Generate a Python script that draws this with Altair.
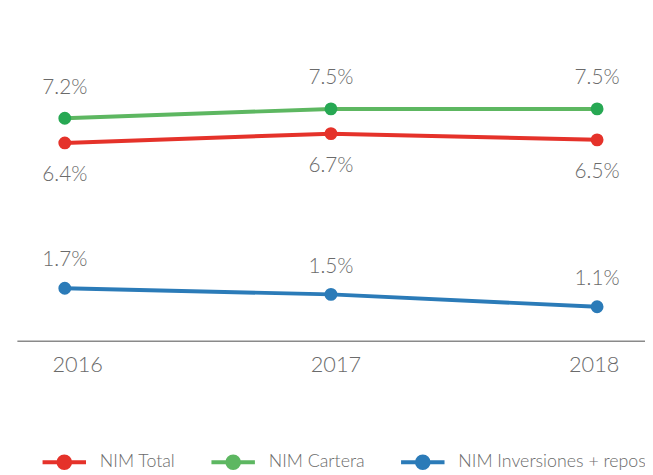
import altair as alt
import pandas as pd

years = ["2016", "2017", "2018"]
series = ["NIM Total", "NIM Cartera", "NIM Inversiones + repos"]
nim_total = [6.4, 6.7, 6.5]
nim_cartera = [7.2, 7.5, 7.5]
nim_inv = [1.7, 1.5, 1.1]

line_colors = ["#E5322A", "#5DB761", "#2B7BB8"]
dot_colors = ["#E5322A", "#27A853", "#2B7BB8"]

rows = []
for s, vals in zip(series, [nim_total, nim_cartera, nim_inv]):
    for y, v in zip(years, vals):
        rows.append({"year": y, "series": s, "value": v, "label": f"{v:.1f}%"})
df = pd.DataFrame(rows)

FONT = "Lato"
GRAY = "#6b6b6b"

# main x scale (points); axis draws only the baseline
x = alt.X("year:O", scale=alt.Scale(type="point", padding=0.18),
          axis=alt.Axis(title=None, labels=False, ticks=False, grid=False,
                        orient="bottom",
                        domainColor="#8a8a8a", domainWidth=1.5))
# label axis (year labels sit slightly off the points in the original)
x_lab = alt.X("year:O", scale=alt.Scale(type="point", range=[61, 584], padding=0),
              axis=alt.Axis(title=None, labelAngle=0, ticks=False, grid=False,
                            domain=False, orient="bottom",
                            labelFontSize=22, labelColor=GRAY, labelFont=FONT,
                            labelFontWeight=300, labelPadding=14))
y = alt.Y("value:Q", scale=alt.Scale(domain=[0, 10]), axis=None)

# line with a solid dot (concentric rings so the stroked path reads as a disc)
def ring(r):
    return f"M{-r},0A{r},{r},0,1,1,{r},0A{r},{r},0,1,1,{-r},0Z"
sym_path = "M-1,0L1,0" + ring(0.27) + ring(0.13) + ring(0.03)

legend = alt.Legend(
    title=None, orient="none", direction="horizontal",
    legendX=24, legendY=412, padding=0,
    symbolType=sym_path, symbolSize=1936,
    symbolStrokeWidth=4, symbolOpacity=1, columnPadding=28,
    labelFontSize=18, labelFont=FONT, labelFontWeight=300,
    labelColor=GRAY, labelOffset=12, labelLimit=400,
)

stroke_enc = alt.Stroke("series:N", scale=alt.Scale(domain=series, range=line_colors),
                        legend=legend)
fill_enc = alt.Fill("series:N", scale=alt.Scale(domain=series, range=dot_colors),
                    legend=None)

base = alt.Chart(df)

lines = base.mark_line(strokeWidth=4).encode(x=x, y=y, stroke=stroke_enc)

points = base.mark_point(filled=True, size=170, opacity=1).encode(
    x=x, y=y, fill=fill_enc,
)

offsets = {"NIM Total": 33, "NIM Cartera": -31, "NIM Inversiones + repos": -28}
texts = []
for s in series:
    texts.append(
        base.transform_filter(alt.datum.series == s).mark_text(
            dy=offsets[s], fontSize=21, font=FONT, fontWeight=300, color=GRAY,
            baseline="middle", align="center"
        ).encode(x=x, y=y, text="label:N")
    )

data_layers = alt.layer(lines, points, *texts)
axis_layer = base.mark_point(opacity=0).encode(x=x_lab)

chart = alt.layer(data_layers, axis_layer).resolve_scale(x="independent").properties(
    width=636, height=313,
    autosize=alt.AutoSizeParams(type="none"),
    padding={"left": 9, "top": 21, "right": 0, "bottom": 135},
).configure_view(stroke=None)

chart.save("out.html", embed_options={"renderer": "svg", "actions": False})
